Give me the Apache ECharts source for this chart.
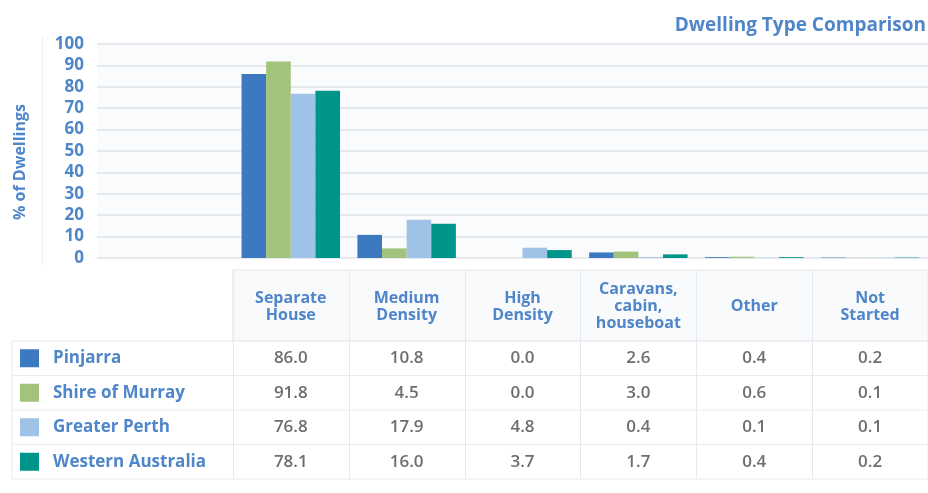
<!DOCTYPE html>
<html>
<head>
<meta charset="utf-8">
<script src="https://cdn.jsdelivr.net/npm/echarts@6/dist/echarts.min.js"></script>
<style>
html,body{margin:0;padding:0;background:#fff;}
#chart{width:928px;height:493px;}
</style>
</head>
<body>
<div id="chart"></div>
<script>
const categories = ['Separate\nHouse', 'Medium\nDensity', 'High\nDensity', 'Caravans,\ncabin,\nhouseboat', 'Other', 'Not\nStarted'];
const seriesNames = ['Pinjarra', 'Shire of Murray', 'Greater Perth', 'Western Australia'];
const pinjarra = [86.0, 10.8, 0.0, 2.6, 0.4, 0.2];
const shireOfMurray = [91.8, 4.5, 0.0, 3.0, 0.6, 0.1];
const greaterPerth = [76.8, 17.9, 4.8, 0.4, 0.1, 0.1];
const westernAustralia = [78.1, 16.0, 3.7, 1.7, 0.4, 0.2];
const yTicks = [0, 10, 20, 30, 40, 50, 60, 70, 80, 90, 100];

const seriesData = [pinjarra, shireOfMurray, greaterPerth, westernAustralia];
const colors = ['#3d79c0', '#a3c27b', '#9ec3e7', '#00958a'];
const FONT = '"Open Sans", "Noto Sans", sans-serif';
const BLUE = '#4f86c9';

const W = 928;
const gridLeft = 117, gridTop = 44, gridBottom = 235;
const colW = (W - gridLeft) / (categories.length + 1);
const tableTop = 270, headerBottom = 341, rowH = 34.5;

const graphics = [];
// faint left axis line
graphics.push({type:'line', shape:{x1:42.5,y1:37,x2:42.5,y2:266}, style:{stroke:'#eceef2', lineWidth:1}, silent:true});
// y axis title
graphics.push({type:'text', x:20, y:162, rotation:Math.PI/2,
  style:{text:'% of Dwellings', x:0, y:0, align:'center', verticalAlign:'middle', fill:BLUE, font:'bold 16px ' + FONT}});
// header background
const hx0 = gridLeft + colW;
graphics.push({type:'rect', shape:{x:hx0, y:tableTop, width:W - hx0, height:headerBottom - tableTop}, style:{fill:'#f8fafc', stroke:'#e6e9ee', lineWidth:1}});
// label column box + rows
const tableBottom = headerBottom + rowH * seriesNames.length;
graphics.push({type:'rect', shape:{x:12, y:headerBottom, width:W - 12, height:tableBottom - headerBottom}, style:{fill:'#ffffff', stroke:'#e6e9ee', lineWidth:1}});
for (let r = 1; r < seriesNames.length; r++) {
  const y = headerBottom + r * rowH;
  graphics.push({type:'line', shape:{x1:12,y1:y,x2:W,y2:y}, style:{stroke:'#e9ecf0', lineWidth:1}});
}
for (let c = 0; c < categories.length; c++) {
  const x = Math.round(hx0 + c * colW) + 0.5;
  graphics.push({type:'line', shape:{x1:x,y1:tableTop,x2:x,y2:tableBottom}, style:{stroke:'#e6e9ee', lineWidth:1}});
  graphics.push({type:'text', style:{text:categories[c], x:hx0 + (c + 0.5) * colW, y:(tableTop + headerBottom) / 2 + 1,
    align:'center', verticalAlign:'middle', fill:BLUE, font:'bold 16px ' + FONT, lineHeight:17}});
}
for (let r = 0; r < seriesNames.length; r++) {
  const cy = headerBottom + (r + 0.5) * rowH;
  graphics.push({type:'rect', shape:{x:20, y:cy - 9, width:19, height:18}, style:{fill:colors[r]}});
  graphics.push({type:'text', style:{text:seriesNames[r], x:53, y:cy, align:'left', verticalAlign:'middle', fill:BLUE, font:'bold 17px ' + FONT}});
  for (let c = 0; c < categories.length; c++) {
    graphics.push({type:'text', style:{text:seriesData[r][c].toFixed(1), x:hx0 + (c + 0.5) * colW, y:cy,
      align:'center', verticalAlign:'middle', fill:'#6e6e6e', font:'600 17px ' + FONT}});
  }
}

const chart = echarts.init(document.getElementById('chart'));
chart.setOption({
  backgroundColor: '#ffffff',
  animation: false,
  title: {
    text: 'Dwelling Type Comparison', right: -3, top: 11,
    textStyle: {color: BLUE, fontSize: 19, fontWeight: 'bold', fontFamily: FONT}
  },
  grid: [
    {left: 97, right: 0, top: gridTop, bottom: gridBottom, show: true, backgroundColor: '#fafbfd', borderWidth: 0},
    {left: gridLeft, right: 0, top: gridTop, bottom: gridBottom}
  ],
  xAxis: [
    {gridIndex: 0, type: 'value', min: 0, max: 1, show: false},
    {gridIndex: 1, type: 'category', data: [''].concat(categories), show: false}
  ],
  yAxis: [
    {gridIndex: 0, type: 'value', min: yTicks[0], max: yTicks[yTicks.length - 1], interval: 10,
      axisLine: {show: false}, axisTick: {show: false},
      axisLabel: {margin: 13, color: BLUE, fontSize: 17, fontWeight: 'bold', fontFamily: FONT},
      splitLine: {lineStyle: {color: '#e5e8ed', width: 2}}},
    {gridIndex: 1, type: 'value', min: 0, max: 100, show: false, splitLine: {show: false}}
  ],
  series: seriesNames.map((name, i) => ({
    name: name, type: 'bar', xAxisIndex: 1, yAxisIndex: 1,
    data: [null].concat(seriesData[i]),
    itemStyle: {color: colors[i]},
    barGap: '0%', barCategoryGap: '15%'
  })),
  graphic: graphics
});
</script>
</body>
</html>
